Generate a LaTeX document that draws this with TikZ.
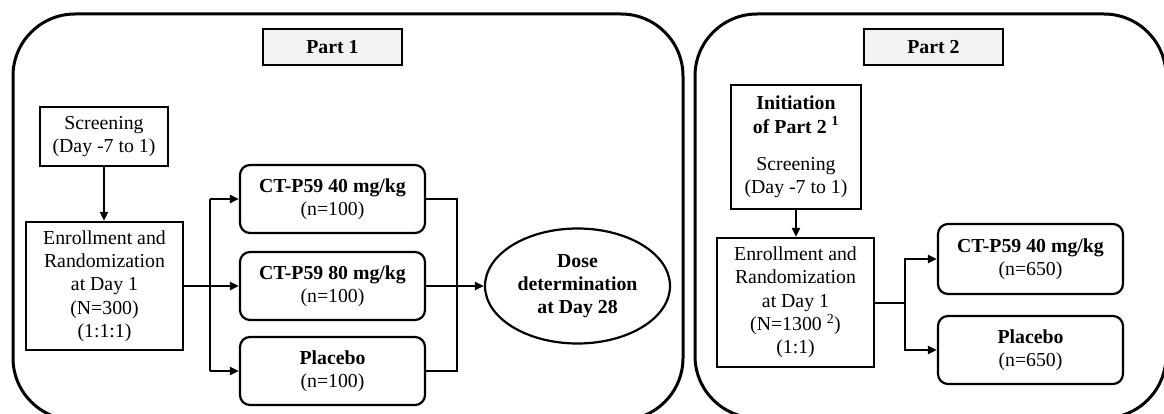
\documentclass[tikz,border=0pt]{standalone}
\usepackage{fontspec}
\setmainfont{Liberation Serif}
\usetikzlibrary{arrows.meta,shapes.geometric}
\definecolor{titlegray}{HTML}{F2F2F2}
\begin{document}
\begin{tikzpicture}[x=1pt,y=-1pt,
  every node/.style={font=\fontsize{19.8}{23.3}\selectfont, align=center, inner sep=0pt},
  frame/.style={line width=3pt, rounded corners=62pt},
  titlebox/.style={draw, line width=2.2pt, fill=titlegray, minimum width=139pt, minimum height=36pt, font=\fontsize{19.8}{23.3}\selectfont\bfseries},
  sqbox/.style={draw, line width=2.2pt},
  rbox/.style={draw, line width=2.2pt, rounded corners=10pt, minimum width=185pt},
  conn/.style={line width=2pt},
  arr/.style={conn, -{Triangle[length=9pt,width=8pt]}}
]
\clip (0,0) rectangle (1164,414);
\fill[white] (0,0) rectangle (1164,414);
% frames
\draw[frame] (13,14) rectangle (683,420);
\draw[frame] (695,14) rectangle (1166,418);
% Part 1
\node[titlebox] (t1) at (332.5,47) {Part 1};
\node[sqbox, minimum width=128pt, minimum height=59pt] (s1) at (104,136.5) {Screening\\(Day -7 to 1)};
\node[sqbox, minimum width=157pt, minimum height=128pt] (e1) at (104.5,286) {Enrollment and\\Randomization\\at Day 1\\(N=300)\\(1:1:1)};
\node[rbox, minimum height=68pt] (b1) at (332.5,199) {\textbf{CT-P59 40 mg/kg}\\(n=100)};
\node[rbox, minimum height=68pt] (b2) at (332.5,286) {\textbf{CT-P59 80 mg/kg}\\(n=100)};
\node[rbox, minimum height=68pt] (b3) at (332.5,371) {\textbf{Placebo}\\(n=100)};
\node[draw, ellipse, line width=2.2pt, minimum width=185pt, minimum height=115pt] (dose) at (577.5,286) {\textbf{Dose}\\\textbf{determination}\\\textbf{at Day 28}};
\coordinate (jl) at (210,286);
\coordinate (jr) at (457,286);
\draw[arr] (s1.south) -- (s1.south |- e1.north);
\draw[arr] (e1.east) -- (b2.west);
\draw[conn] (jl |- b1.west) -- (jl |- b3.west);
\draw[arr] (jl |- b1.west) -- (b1.west);
\draw[arr] (jl |- b3.west) -- (b3.west);
\draw[conn] (b1.east) -- (jr |- b1.east) -- (jr |- b3.east) -- (b3.east);
\draw[arr] (b2.east) -- (dose.west);
% Part 2
\node[titlebox] (t2) at (933.5,47) {Part 2};
\node[sqbox, minimum width=130pt, minimum height=124pt] (init) at (796,147) {\textbf{Initiation}\\\textbf{of Part 2 \textsuperscript{1}}\\[14pt]Screening\\(Day -7 to 1)};
\node[sqbox, minimum width=157pt, minimum height=129pt] (e2) at (795.5,302.5) {Enrollment and\\Randomization\\at Day 1\\(N=1300 \textsuperscript{2})\\(1:1)};
\node[rbox, minimum height=70pt] (pa) at (1030.5,259) {\textbf{CT-P59 40 mg/kg}\\(n=650)};
\node[rbox, minimum height=68pt] (pb) at (1030.5,350) {\textbf{Placebo}\\(n=650)};
\coordinate (j2) at (905,302.5);
\draw[arr] (init.south) -- (init.south |- e2.north);
\draw[conn] (e2.east) -- (j2);
\draw[arr] (j2) |- (pa.west);
\draw[arr] (j2) |- (pb.west);
\end{tikzpicture}
\end{document}
